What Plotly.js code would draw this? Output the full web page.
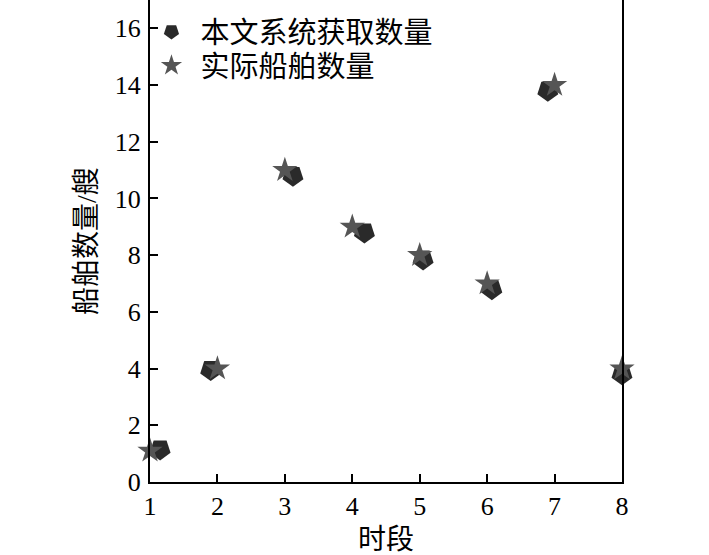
<!DOCTYPE html>
<html>
<head>
<meta charset="utf-8">
<script src="https://cdn.plot.ly/plotly-3.0.1.min.js"></script>
<style>html,body{margin:0;padding:0;background:#fff}#chart{width:709px;height:555px}</style>
</head>
<body>
<div id="chart"></div>
<script>
// Data
const seriesNames = ["本文系统获取数量", "实际船舶数量"];
const systemX = [1.15, 1.9, 3.12, 4.18, 5.05, 6.07, 6.9, 8.0];
const systemY = [1.15, 3.95, 10.8, 8.8, 7.85, 6.8, 13.8, 3.8];
const actualX = [1, 2, 3, 4, 5, 6, 7, 8];
const actualY = [1.1, 4, 11, 9, 8, 7, 14, 4];
const xTicks = [1, 2, 3, 4, 5, 6, 7, 8];
const yTicks = [0, 2, 4, 6, 8, 10, 12, 14, 16];

const fontFam = "Liberation Serif, 'Noto Sans CJK SC', serif";

const traces = [
  {
    x: systemX, y: systemY, name: seriesNames[0], type: "scatter", mode: "markers",
    marker: {symbol: "pentagon", angle: 180, size: 22, color: "#2a2a2a", line: {width: 0}},
    cliponaxis: false, legend: "legend"
  },
  {
    x: actualX, y: actualY, name: seriesNames[1], type: "scatter", mode: "markers",
    marker: {symbol: "star", size: 19, color: "#555555", line: {width: 0}},
    cliponaxis: false, legend: "legend2"
  }
];

const legendCommon = {xanchor: "left", yanchor: "top", bgcolor: "rgba(0,0,0,0)",
  font: {family: fontFam, size: 29, color: "#000"}, itemsizing: "trace", itemwidth: 48};

const layout = {
  width: 709, height: 555,
  margin: {l: 150, r: 87, t: 0, b: 73},
  paper_bgcolor: "#fff", plot_bgcolor: "#fff",
  font: {family: fontFam, size: 26, color: "#000"},
  showlegend: true,
  legend: Object.assign({x: -0.016, y: 0.987}, legendCommon),
  legend2: Object.assign({x: -0.016, y: 0.917}, legendCommon),
  xaxis: {
    range: [1, 8], tickvals: xTicks, ticktext: xTicks.map(String),
    showgrid: false, zeroline: false, showline: true, linecolor: "#000", linewidth: 2,
    mirror: true, ticks: "inside", ticklen: 8, tickwidth: 2, tickcolor: "#000",
    tickfont: {family: fontFam, size: 26}, ticklabelstandoff: 0,
    title: {text: "时段", font: {family: fontFam, size: 28}, standoff: 10}
  },
  yaxis: {
    range: [0, 17], tickvals: yTicks, ticktext: yTicks.map(String),
    showgrid: false, zeroline: false, showline: true, linecolor: "#000", linewidth: 2,
    mirror: true, ticks: "inside", ticklen: 8, tickwidth: 2, tickcolor: "#000",
    tickfont: {family: fontFam, size: 26}, ticklabelstandoff: 2,
    title: {text: "船舶数量/艘", font: {family: fontFam, size: 28}, standoff: 10}
  }
};

Plotly.newPlot("chart", traces, layout, {displayModeBar: false, staticPlot: true});
</script>
</body>
</html>
